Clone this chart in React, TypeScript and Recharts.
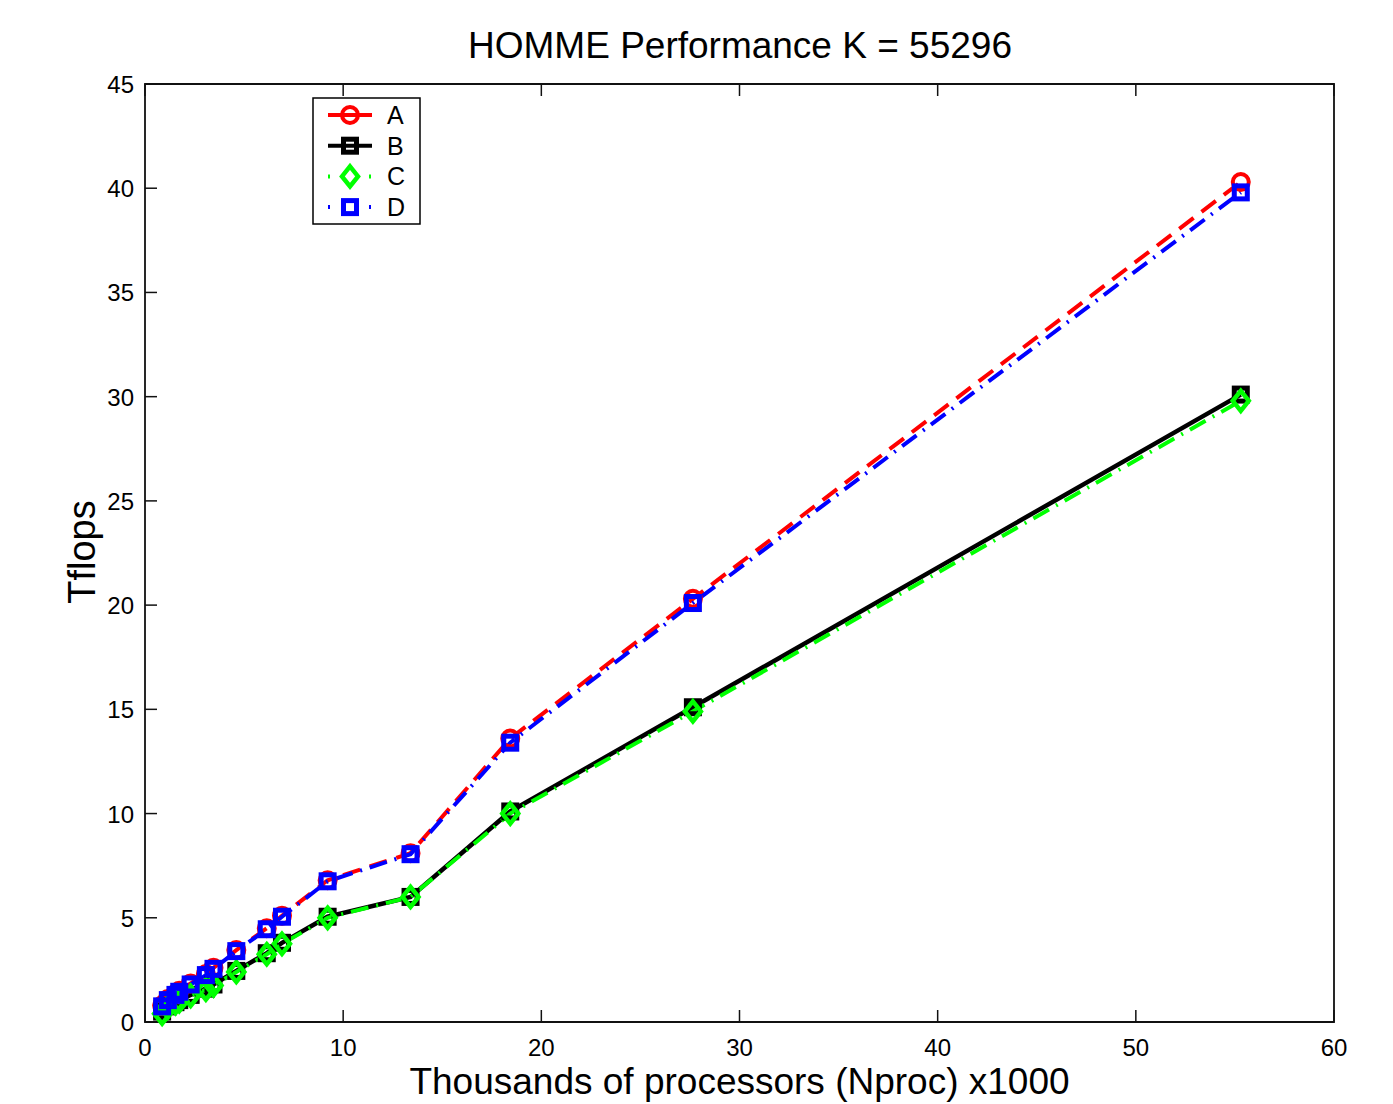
import React from "react";
import { LineChart, Line, XAxis, YAxis, ReferenceArea } from "recharts";

// processor counts (thousands) and Tflops per series
const nproc = [0.864, 1.152, 1.536, 1.728, 2.304, 3.072, 3.456, 4.608, 6.144, 6.912, 9.216, 13.4, 18.432, 27.648, 55.296];
const seriesA = [0.8, 1.1, 1.35, 1.5, 1.85, 2.3, 2.6, 3.45, 4.5, 5.1, 6.8, 8.1, 13.6, 20.3, 40.3];
const seriesB = [0.5, 0.75, 0.95, 1.05, 1.3, 1.6, 1.8, 2.45, 3.3, 3.8, 5.05, 6.0, 10.1, 15.1, 30.1];
const seriesC = [0.4, 0.7, 0.9, 1.0, 1.25, 1.55, 1.75, 2.4, 3.25, 3.75, 5.0, 6.0, 10.0, 14.9, 29.8];
const seriesD = [0.75, 1.05, 1.3, 1.45, 1.8, 2.25, 2.55, 3.4, 4.45, 5.05, 6.75, 8.05, 13.4, 20.1, 39.8];

const xTicks = [0, 10, 20, 30, 40, 50, 60];
const yTicks = [0, 5, 10, 15, 20, 25, 30, 35, 40, 45];

const FONT = "'Liberation Sans', Arial, Helvetica, sans-serif";

const data = nproc.map((n, i) => ({
  n,
  A: seriesA[i],
  B: seriesB[i],
  C: seriesC[i],
  D: seriesD[i],
}));

const TICK = 12;
const AX = "#111";

const BottomTick = ({ x, y, payload }: any) => (
  <g>
    <line x1={x} y1={y} x2={x} y2={y - TICK} stroke={AX} strokeWidth={1.5} />
    <text x={x} y={y + 34} textAnchor="middle" fontSize={24} fontFamily={FONT} fill="#000">
      {payload.value}
    </text>
  </g>
);
const TopTick = ({ x, y }: any) => (
  <line x1={x} y1={y} x2={x} y2={y + TICK} stroke={AX} strokeWidth={1.5} />
);
const LeftTick = ({ x, y, payload }: any) => (
  <g>
    <line x1={x} y1={y} x2={x + TICK} y2={y} stroke={AX} strokeWidth={1.5} />
    <text x={x - 11} y={y + 9} textAnchor="end" fontSize={24} fontFamily={FONT} fill="#000">
      {payload.value}
    </text>
  </g>
);
const RightTick = ({ x, y }: any) => (
  <line x1={x} y1={y} x2={x - TICK} y2={y} stroke={AX} strokeWidth={1.5} />
);

// MATLAB-like markers
const Circle = ({ cx, cy, color }: any) => (
  <circle cx={cx} cy={cy} r={8} fill="none" stroke={color} strokeWidth={4} />
);
const Square = ({ cx, cy, color }: any) => (
  <rect x={cx - 6.5} y={cy - 6.5} width={13} height={13} fill="none" stroke={color} strokeWidth={5} />
);
const Diamond = ({ cx, cy, color }: any) => (
  <path
    d={`M${cx},${cy - 10} L${cx + 8},${cy} L${cx},${cy + 10} L${cx - 8},${cy} Z`}
    fill="none"
    stroke={color}
    strokeWidth={4.5}
  />
);

const legendItems = [
  { name: "A", color: "#ff0000", dash: "none", marker: "circle" },
  { name: "B", color: "#000000", dash: "none", marker: "square" },
  { name: "C", color: "#00ff00", dash: "2 39 2 100", marker: "diamond" },
  { name: "D", color: "#0000ff", dash: "2 39 2 100", marker: "square" },
];

const LegendBox = () => (
  <svg width={110} height={129} style={{ position: "absolute", left: 312, top: 97 }}>
    <rect x={1} y={1} width={107} height={126} fill="#fff" stroke="#000" strokeWidth={1.5} />
    {legendItems.map((it, i) => {
      const cy = 18 + i * 30.7;
      return (
        <g key={it.name}>
          <line x1={16} y1={cy} x2={60} y2={cy} stroke={it.color} strokeWidth={4} strokeDasharray={it.dash} />
          {it.marker === "circle" && <Circle cx={38} cy={cy} color={it.color} />}
          {it.marker === "square" && <Square cx={38} cy={cy} color={it.color} />}
          {it.marker === "diamond" && <Diamond cx={38} cy={cy} color={it.color} />}
          <text x={75} y={cy + 9} fontSize={25} fontFamily={FONT} fill="#000">
            {it.name}
          </text>
        </g>
      );
    })}
  </svg>
);

export default function App() {
  return (
    <div style={{ position: "absolute", left: 0, top: 0, width: 1393, height: 1104, background: "#fff", fontFamily: FONT }}>
      <div style={{ position: "absolute", left: 0, width: 1480, top: 24, textAlign: "center", fontSize: 37, color: "#000", lineHeight: "44px" }}>
        HOMME Performance K = 55296
      </div>
      <LineChart width={1393} height={1104} data={data} margin={{ top: 83, right: 0, bottom: 0, left: 0 }}>
        <XAxis
          dataKey="n"
          type="number"
          domain={[0, 60]}
          ticks={xTicks}
          height={82}
          tickSize={0}
          tickMargin={0}
          tick={<BottomTick />}
          axisLine={false}
          tickLine={false}
          interval={0}
        />
        <XAxis
          xAxisId="top"
          orientation="top"
          dataKey="n"
          type="number"
          domain={[0, 60]}
          ticks={xTicks}
          height={1}
          tickSize={0}
          tickMargin={0}
          tick={<TopTick />}
          axisLine={false}
          tickLine={false}
          interval={0}
        />
        <YAxis
          type="number"
          domain={[0, 45]}
          ticks={yTicks}
          width={145}
          tickSize={0}
          tickMargin={0}
          tick={<LeftTick />}
          axisLine={false}
          tickLine={false}
          interval={0}
        />
        <YAxis
          yAxisId="right"
          orientation="right"
          type="number"
          domain={[0, 45]}
          ticks={yTicks}
          width={59}
          tickSize={0}
          tickMargin={0}
          tick={<RightTick />}
          axisLine={false}
          tickLine={false}
          interval={0}
        />
        <ReferenceArea x1={0} x2={60} y1={0} y2={45} fill="none" stroke={AX} strokeWidth={1.8} fillOpacity={0} />
        <Line
          dataKey="A"
          stroke="#ff0000"
          strokeWidth={4}
          strokeDasharray="18 10"
          dot={(p: any) => <Circle key={`a-${p.index}`} cx={p.cx} cy={p.cy} color="#ff0000" />}
          isAnimationActive={false}
        />
        <Line
          dataKey="B"
          stroke="#000000"
          strokeWidth={4.5}
          dot={(p: any) => <Square key={`b-${p.index}`} cx={p.cx} cy={p.cy} color="#000000" />}
          isAnimationActive={false}
        />
        <Line
          dataKey="C"
          stroke="#00ff00"
          strokeWidth={4}
          strokeDasharray="18 8 2 8"
          dot={(p: any) => <Diamond key={`c-${p.index}`} cx={p.cx} cy={p.cy} color="#00ff00" />}
          isAnimationActive={false}
        />
        <Line
          dataKey="D"
          stroke="#0000ff"
          strokeWidth={4}
          strokeDasharray="18 8 2 8"
          dot={(p: any) => <Square key={`d-${p.index}`} cx={p.cx} cy={p.cy} color="#0000ff" />}
          isAnimationActive={false}
        />
      </LineChart>
      <LegendBox />
      <div style={{ position: "absolute", left: 145, width: 1189, top: 1060, textAlign: "center", fontSize: 37, color: "#000", lineHeight: "44px" }}>
        Thousands of processors (Nproc) x1000
      </div>
      <div
        style={{
          position: "absolute",
          left: 82,
          top: 552,
          transform: "translate(-50%, -50%) rotate(-90deg)",
          fontSize: 38,
          color: "#000",
          whiteSpace: "nowrap",
          lineHeight: "44px",
        }}
      >
        Tflops
      </div>
    </div>
  );
}
